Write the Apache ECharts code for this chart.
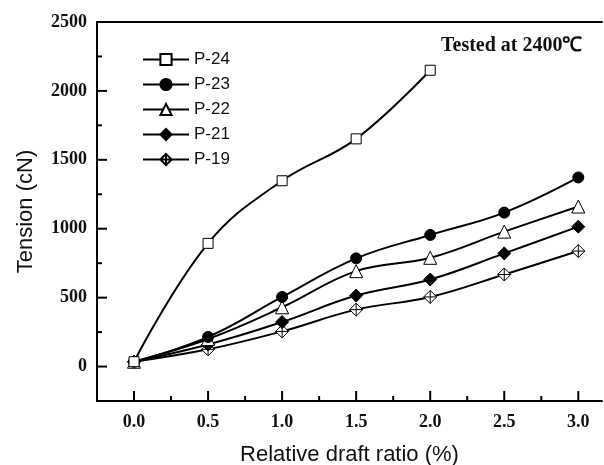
<!DOCTYPE html>
<html>
<head>
<meta charset="utf-8">
<script src="https://cdn.jsdelivr.net/npm/echarts@6/dist/echarts.min.js"></script>
<style>
  html, body { margin: 0; padding: 0; background: #fff; }
  #chart { width: 604px; height: 465px; }
</style>
</head>
<body>
<div id="chart"></div>
<script>
// draft ratio (%)
var ratios = [0, 0.5, 1.0, 1.5, 2.0, 2.5, 3.0];
// tension (cN) per sample
var p24 = [35, 894, 1348, 1652, 2150];
var p23 = [35, 215, 505, 785, 955, 1117, 1372];
var p22 = [35, 200, 430, 692, 789, 979, 1161];
var p21 = [35, 160, 323, 515, 632, 821, 1015];
var p19 = [35, 125, 255, 413, 505, 668, 838];
var names = ['P-24', 'P-23', 'P-22', 'P-21', 'P-19'];
var xTicks = [0, 0.5, 1.0, 1.5, 2.0, 2.5, 3.0];
var xMinor = [0.25, 0.75, 1.25, 1.75, 2.25, 2.75];
var yTicks = [0, 500, 1000, 1500, 2000, 2500];
var yMinor = [-250, 250, 750, 1250, 1750, 2250];

var serif = 'Liberation Serif';
var sans = 'Liberation Sans';

function pairs (vals) {
  var out = [];
  for (var i = 0; i < vals.length; i++) {
    out.push([ratios[i], vals[i]]);
  }
  return out;
}

// diamond with a cross inside
var crossDiamond = 'path://M0,-10L10,0L0,10L-10,0Z M0,-10L0,10 M-10,0L10,0';

var marks = [
  { symbol: 'rect', size: 10, fill: '#fff', vals: p24 },
  { symbol: 'circle', size: 11, fill: '#000', vals: p23 },
  { symbol: 'triangle', size: 13, fill: '#fff', vals: p22 },
  { symbol: 'diamond', size: 13, fill: '#000', vals: p21 },
  { symbol: crossDiamond, size: 13, fill: '#fff', vals: p19 }
];

var series = [];
for (var s = 0; s < marks.length; s++) {
  var m = marks[s];
  series.push({
    name: names[s],
    type: 'line',
    smooth: 0.4,
    symbol: m.symbol,
    symbolSize: m.size,
    showAllSymbol: true,
    lineStyle: { color: '#000', width: 2 },
    itemStyle: { color: m.fill, borderColor: '#000', borderWidth: 1 },
    data: pairs(m.vals),
    z: 10 - s
  });
}

var X_MIN = -0.25, X_MAX = 3.16, Y_MIN = -250, Y_MAX = 2500;

var myChart = echarts.init(document.getElementById('chart'));
myChart.setOption({
  backgroundColor: '#fff',
  animation: false,
  title: {
    text: 'Tested at 2400℃',
    left: 436,
    top: 31,
    textStyle: { fontFamily: serif, fontWeight: 'bold', fontSize: 20, color: '#111' }
  },
  legend: {
    orient: 'vertical',
    left: 137,
    top: 46,
    itemWidth: 46,
    itemHeight: 14,
    itemGap: 8,
    data: names,
    textStyle: { fontFamily: sans, fontSize: 17, color: '#111' }
  },
  grid: {
    left: 97,
    right: 2,
    top: 22,
    bottom: 64,
    outerBoundsMode: 'none'
  },
  xAxis: [
    {
      type: 'value',
      min: X_MIN,
      max: X_MAX,
      position: 'bottom',
      name: 'Relative draft ratio (%)',
      nameLocation: 'middle',
      nameGap: 43,
      nameTextStyle: { fontFamily: sans, fontSize: 22, color: '#111' },
      axisLine: { show: true, onZero: false, lineStyle: { color: '#000', width: 2 } },
      axisTick: { show: false },
      axisLabel: {
        customValues: xTicks,
        margin: 12,
        fontFamily: serif,
        fontWeight: 'bold',
        fontSize: 18,
        color: '#111',
        formatter: function (v) { return v.toFixed(1); }
      },
      splitLine: { show: false }
    },
    {
      // top frame line
      type: 'value',
      min: X_MIN,
      max: X_MAX,
      position: 'top',
      axisLine: { show: true, onZero: false, lineStyle: { color: '#000', width: 2 } },
      axisTick: { show: false },
      axisLabel: { show: false },
      splitLine: { show: false }
    }
  ],
  yAxis: [
    {
      type: 'value',
      min: Y_MIN,
      max: Y_MAX,
      position: 'left',
      name: 'Tension (cN)',
      nameLocation: 'middle',
      nameGap: 60,
      nameTextStyle: { fontFamily: sans, fontSize: 22, color: '#111' },
      axisLine: { show: true, onZero: false, lineStyle: { color: '#000', width: 2 } },
      axisTick: { show: false },
      axisLabel: {
        customValues: yTicks,
        margin: 10,
        fontFamily: serif,
        fontWeight: 'bold',
        fontSize: 18,
        color: '#111',
        formatter: function (v) { return String(v); }
      },
      splitLine: { show: false }
    }
  ],
  series: series
});

// inward tick marks, placed through the axes' own scales
var ticks = [];
var xb = myChart.convertToPixel({ yAxisIndex: 0 }, Y_MIN);
var yl = myChart.convertToPixel({ xAxisIndex: 0 }, X_MIN);
function addX (vals, len) {
  for (var i = 0; i < vals.length; i++) {
    var px = myChart.convertToPixel({ xAxisIndex: 0 }, vals[i]);
    ticks.push({ type: 'line', z: 50, shape: { x1: px, y1: xb, x2: px, y2: xb - len }, style: { stroke: '#000', lineWidth: 2 } });
  }
}
function addY (vals, len) {
  for (var i = 0; i < vals.length; i++) {
    var py = myChart.convertToPixel({ yAxisIndex: 0 }, vals[i]);
    ticks.push({ type: 'line', z: 50, shape: { x1: yl, y1: py, x2: yl + len, y2: py }, style: { stroke: '#000', lineWidth: 2 } });
  }
}
addX(xTicks, 10);
addX(xMinor, 5);
addY(yTicks, 10);
addY(yMinor, 5);
myChart.setOption({ graphic: ticks });
</script>
</body>
</html>
